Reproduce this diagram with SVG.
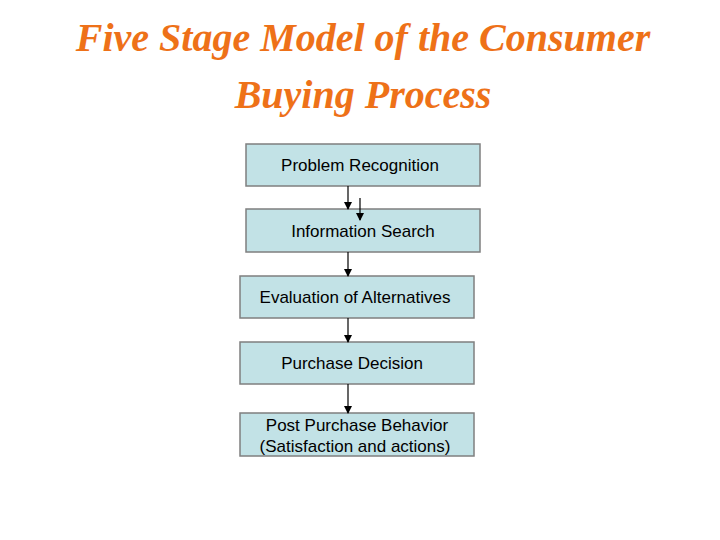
<svg xmlns="http://www.w3.org/2000/svg" width="720" height="540" viewBox="0 0 720 540">
<defs>
<marker id="ah" markerWidth="8" markerHeight="8" refX="7" refY="4" orient="auto" markerUnits="userSpaceOnUse"><path d="M0,0 L8,4 L0,8 z" fill="#000"/></marker>
<style>
.box{fill:#C2E2E6;stroke:#7f7f7f;stroke-width:1.5}
.lbl{font-family:"Liberation Sans",Arial,sans-serif;font-size:17px;fill:#000;text-anchor:middle}
.ttl{font-family:"Liberation Serif",serif;font-style:italic;font-weight:bold;font-size:40px;fill:#EE7118;text-anchor:middle}
.c{stroke:#000;stroke-width:1.2;fill:none;marker-end:url(#ah)}
</style>
</defs>
<rect width="720" height="540" fill="#fff"/>
<g id="title">
<text class="ttl" x="363" y="51">Five Stage Model of the Consumer</text>
<text class="ttl" x="363" y="108">Buying Process</text>
</g>
<g id="n1"><rect class="box" x="246" y="144" width="234" height="42"/><text class="lbl" x="360" y="171">Problem Recognition</text></g>
<g id="n2"><rect class="box" x="246" y="209" width="234" height="43"/><text class="lbl" x="363" y="237">Information Search</text></g>
<g id="n3"><rect class="box" x="240" y="276" width="234" height="42"/><text class="lbl" x="355" y="303">Evaluation of Alternatives</text></g>
<g id="n4"><rect class="box" x="240" y="342" width="234" height="42"/><text class="lbl" x="352" y="369">Purchase Decision</text></g>
<g id="n5"><rect class="box" x="240" y="413" width="234" height="43"/><text class="lbl" x="357" y="431">Post Purchase Behavior</text><text class="lbl" x="355" y="452">(Satisfaction and actions)</text></g>
<g id="connectors">
<path class="c" d="M348,186 V209"/>
<path class="c" d="M360,198 V220"/>
<path class="c" d="M348,252 V276"/>
<path class="c" d="M348,318 V342"/>
<path class="c" d="M348,384 V413"/>
</g>
</svg>
